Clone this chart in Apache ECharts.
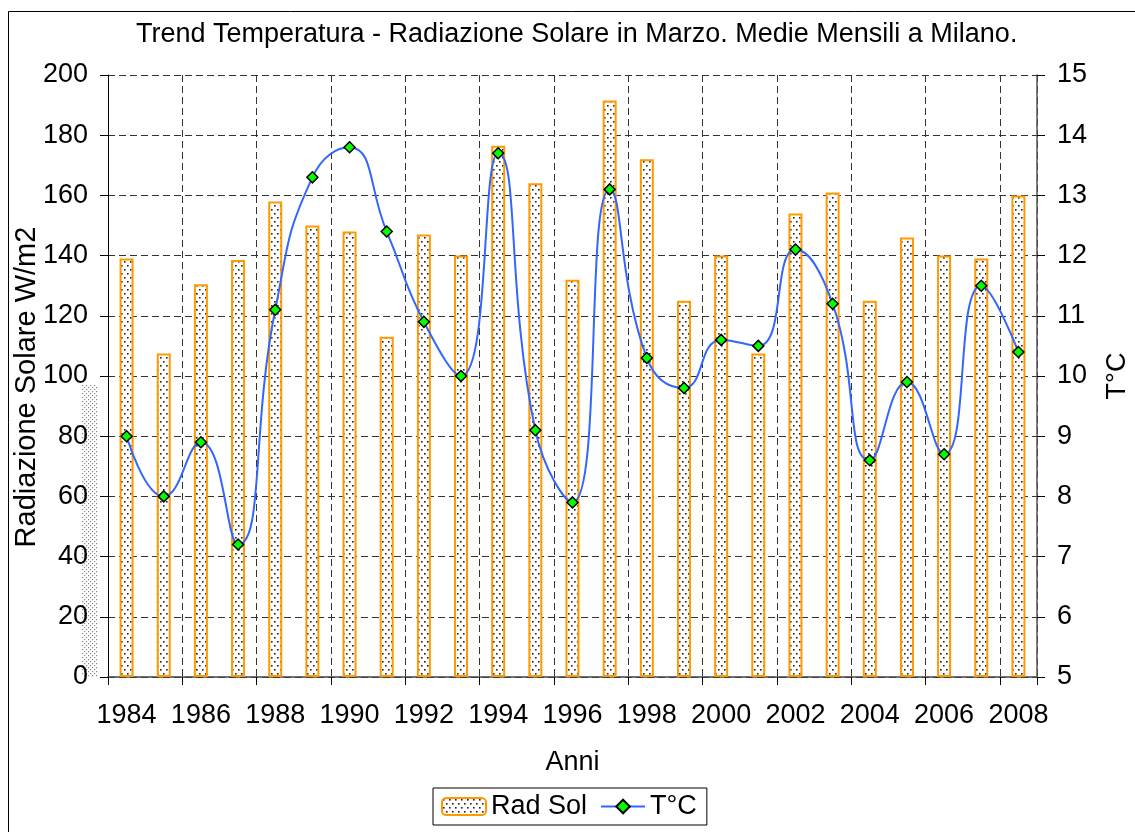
<!DOCTYPE html>
<html>
<head>
<meta charset="utf-8">
<title>Trend Temperatura - Radiazione Solare</title>
<script src="https://cdn.jsdelivr.net/npm/echarts@6/dist/echarts.min.js"></script>
<style>
  html, body { margin: 0; padding: 0; background: #fff; }
  #chart { width: 1135px; height: 832px; }
</style>
</head>
<body>
<div id="chart"></div>
<script>
// Data
const years = ['1984', '1985', '1986', '1987', '1988', '1989', '1990', '1991', '1992',
  '1993', '1994', '1995', '1996', '1997', '1998', '1999', '2000', '2001', '2002',
  '2003', '2004', '2005', '2006', '2007', '2008'];
// Radiazione solare, W/m2
const radSol = [139, 107.5, 130.5, 138.5, 158, 150, 148, 113, 147, 140, 176.5, 164, 132,
  191.5, 172, 125, 140, 107.5, 154, 161, 125, 146, 140, 139, 160];
// Temperatura media, °C
const tempC = [9.0, 8.0, 8.9, 7.2, 11.1, 13.3, 13.8, 12.4, 10.9, 10.0, 13.7, 9.1, 7.9,
  13.1, 10.3, 9.8, 10.6, 10.5, 12.1, 11.2, 8.6, 9.9, 8.7, 11.5, 10.4];

const FONT = '"Liberation Sans", Arial, sans-serif';
const FS = 27;

// dotted fill like the Excel pattern
function makePattern(w, h, dots, dotColor, dot) {
  const c = document.createElement('canvas');
  c.width = w;
  c.height = h;
  const ctx = c.getContext('2d');
  ctx.fillStyle = '#fff';
  ctx.fillRect(0, 0, w, h);
  ctx.fillStyle = dotColor;
  dots.forEach(d => ctx.fillRect(d[0], d[1], dot, dot));
  return c;
}
const barPattern = makePattern(6, 8, [[1, 1], [4, 5]], '#222', 1.6);
const stripPattern = makePattern(4, 4, [[0, 0], [2, 2]], '#888', 1.2);

const chart = echarts.init(document.getElementById('chart'), null, { renderer: 'canvas' });

const gridDash = { color: '#333', width: 1, type: [7, 4] };

const option = {
  backgroundColor: '#fff',
  animation: false,
  textStyle: { fontFamily: FONT, color: '#000' },
  title: {
    text: 'Trend Temperatura - Radiazione Solare in Marzo. Medie Mensili a Milano.',
    left: 131,
    top: 16,
    textStyle: { fontFamily: FONT, fontSize: FS, fontWeight: 'normal', color: '#000' }
  },
  legend: {
    left: 433,
    top: 788,
    padding: [5, 10, 5, 8],
    borderColor: '#000',
    borderWidth: 1,
    itemWidth: 44,
    itemHeight: 17,
    itemGap: 13,
    textStyle: { fontFamily: FONT, fontSize: FS, color: '#000' },
    data: ['Rad Sol', 'T°C']
  },
  grid: { left: 108, right: 98, top: 75, bottom: 155, containLabel: false, outerBoundsMode: 'none' },
  xAxis: {
    type: 'category',
    data: years,
    boundaryGap: true,
    name: 'Anni',
    nameLocation: 'middle',
    nameGap: 72,
    nameMoveOverlap: false,
    nameTextStyle: { fontFamily: FONT, fontSize: FS, color: '#000' },
    axisLine: { show: true, lineStyle: { color: '#444', width: 1.5 } },
    axisTick: { show: true, interval: 1, length: 8, inside: false, lineStyle: { color: '#000' } },
    axisLabel: { interval: 1, margin: 25, fontFamily: FONT, fontSize: FS, color: '#000' },
    splitLine: { show: true, interval: 1, lineStyle: gridDash }
  },
  yAxis: [
    {
      type: 'value',
      min: 0,
      max: 200,
      interval: 20,
      name: 'Radiazione Solare W/m2',
      nameLocation: 'middle',
      nameRotate: 90,
      nameGap: 67,
      nameMoveOverlap: false,
      nameTextStyle: { fontFamily: FONT, fontSize: 29, color: '#000', padding: [0, 22, 0, 0] },
      axisLine: { show: true, lineStyle: { color: '#000', width: 1 } },
      axisTick: { show: true, length: 8, inside: false, lineStyle: { color: '#000' } },
      axisLabel: { margin: 20, fontFamily: FONT, fontSize: FS, color: '#000' },
      splitLine: { show: true, lineStyle: gridDash }
    },
    {
      type: 'value',
      min: 5,
      max: 15,
      interval: 1,
      position: 'right',
      name: 'T°C',
      nameLocation: 'middle',
      nameRotate: 90,
      nameGap: 67,
      nameMoveOverlap: false,
      nameTextStyle: { fontFamily: FONT, fontSize: FS, color: '#000' },
      axisLine: { show: true, lineStyle: { color: '#555', width: 1.5 } },
      axisTick: { show: true, length: 8, inside: false, lineStyle: { color: '#000' } },
      axisLabel: { margin: 20, fontFamily: FONT, fontSize: FS, color: '#000' },
      splitLine: { show: false }
    }
  ],
  series: [
    {
      name: 'Rad Sol',
      type: 'bar',
      yAxisIndex: 0,
      data: radSol,
      barWidth: 14,
      itemStyle: {
        color: { image: barPattern, repeat: 'repeat' },
        borderColor: '#ff9900',
        borderWidth: 2
      }
    },
    {
      name: 'T°C',
      type: 'line',
      yAxisIndex: 1,
      data: tempC,
      smooth: 0.5,
      symbol: 'diamond',
      symbolSize: 11,
      lineStyle: { color: '#3366ff', width: 2 },
      itemStyle: { color: '#00ff00', borderColor: '#000', borderWidth: 1.5 },
      z: 5
    }
  ],
  graphic: [
    {
      type: 'rect',
      left: 6,
      top: 9,
      shape: { x: 0.5, y: 0.5, width: 1200, height: 900 },
      style: { fill: 'none', stroke: '#000', lineWidth: 1 },
      silent: true
    },
    {
      type: 'rect',
      left: 82,
      top: 385,
      shape: { width: 16, height: 292 },
      style: { fill: { image: stripPattern, repeat: 'repeat' } },
      silent: true
    }
  ]
};

chart.setOption(option);
window.addEventListener('resize', () => chart.resize());
</script>
</body>
</html>
